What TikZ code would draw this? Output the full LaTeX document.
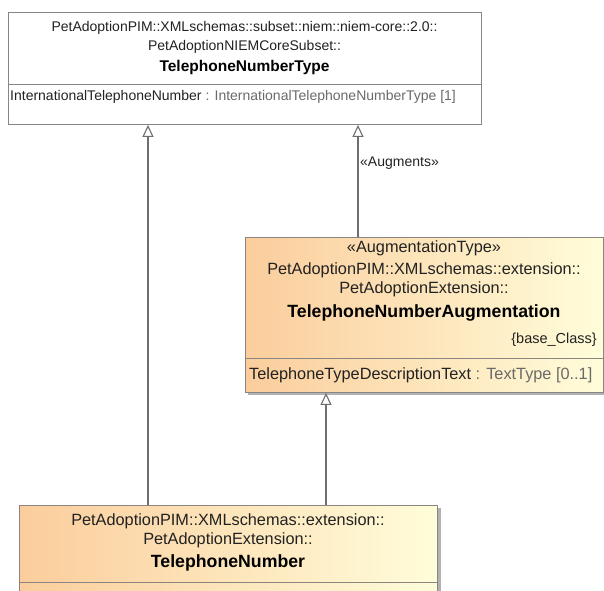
\documentclass[tikz,border=0pt]{standalone}
\usepackage{fontspec}
\setmainfont{Liberation Sans}
\usetikzlibrary{arrows.meta}
\definecolor{edge}{HTML}{8A8580}
\definecolor{conn}{HTML}{6E6E6E}
\definecolor{txt}{HTML}{222222}
\definecolor{typ}{HTML}{6A6A6A}
\definecolor{orL}{HTML}{FBCD9C}
\definecolor{orR}{HTML}{FFFDDA}
\tikzset{
  box/.style={draw=edge, line width=0.9pt, rectangle, inner sep=0pt, anchor=north west},
  plainbox/.style={box, fill=white},
  grbox/.style={box, left color=orL, right color=orR},
  lbl/.style={font=\fontsize{14}{16}\selectfont, text=txt, inner sep=0pt},
  ttl/.style={font=\fontsize{15.5}{18}\selectfont\bfseries, text=black, inner sep=0pt},
  lblb/.style={font=\fontsize{16.3}{18}\selectfont, text=txt, inner sep=0pt},
  ttlb/.style={font=\fontsize{17.7}{20}\selectfont\bfseries, text=black, inner sep=0pt},
  gen/.style={draw=conn, line width=1.1pt, -{Triangle[open, length=12pt, width=11pt, fill=white]}},
}
\begin{document}
\begin{tikzpicture}[x=1pt,y=-1pt]
\useasboundingbox (0,0) rectangle (604,590);
% top box
\node[plainbox, minimum width=473pt, minimum height=112pt] (T) at (8,12) {};
\draw[edge, line width=0.9pt] (8,84) -- (481,84);
\node[lbl] (t1) at (244.5,28) {PetAdoptionPIM::XMLschemas::subset::niem::niem-core::2.0::};
\node[lbl] (t2) at (244.5,47) {PetAdoptionNIEMCoreSubset::};
\node[ttl] (t3) at (244.5,67) {TelephoneNumberType};
\node[lbl, anchor=west] (t4) at (10,97) {InternationalTelephoneNumber \textcolor{typ}{: InternationalTelephoneNumberType [1]}};
% middle box
\fill[black!30] (248,240) rectangle (606,395);
\node[grbox, minimum width=358pt, minimum height=155pt] (M) at (245,237) {};
\draw[edge, line width=0.9pt] (245,358) -- (603,358);
\node[lblb] (m0) at (424,248) {«AugmentationType»};
\node[lblb] (m1) at (424,270) {PetAdoptionPIM::XMLschemas::extension::};
\node[lblb] (m2) at (424,289) {PetAdoptionExtension::};
\node[ttlb] (m3) at (424,313) {TelephoneNumberAugmentation};
\node[lbl, anchor=east, font=\fontsize{14.5}{16}\selectfont] (m4) at (597,340) {\{base\_Class\}};
\node[lblb, anchor=west] (m5) at (249,375) {TelephoneTypeDescriptionText \textcolor{typ}{: TextType [0..1]}};
% bottom box
\fill[black!30] (22,508) rectangle (441,600);
\node[grbox, minimum width=418pt, minimum height=95pt] (B) at (19,505) {};
\draw[edge, line width=0.9pt] (19,582) -- (437,582);
\node[lblb] (b1) at (228,521) {PetAdoptionPIM::XMLschemas::extension::};
\node[lblb] (b2) at (228,540) {PetAdoptionExtension::};
\node[ttlb] (b3) at (228,563) {TelephoneNumber};
% connectors
\coordinate (L) at (148,0);
\coordinate (R) at (358,0);
\coordinate (C) at (326,0);
\draw[gen] (B.north -| L) -- (T.south -| L);
\draw[gen] (M.north -| R) -- (T.south -| R);
\draw[gen] (B.north -| C) -- (M.south -| C);
\node[lbl, anchor=west] (aug) at (360,163) {«Augments»};
\end{tikzpicture}
\end{document}
